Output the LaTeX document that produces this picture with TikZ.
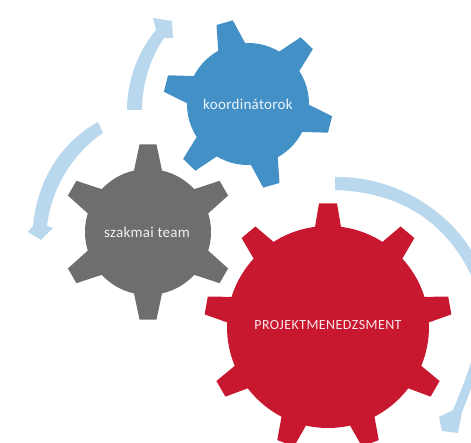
\documentclass[tikz,border=0pt]{standalone}
\usepackage{fontspec}
\setmainfont{Carlito}
\usetikzlibrary{calc}
\definecolor{gearblue}{HTML}{4390C6}
\definecolor{geargray}{HTML}{6E6E70}
\definecolor{gearred}{HTML}{C8182F}
\definecolor{arrowblue}{HTML}{B9D8EE}
% gear: centre x,y; body r; tip r; teeth; first angle; half base; half tip; colour
\newcommand{\gearshape}[9]{%
  \pgfmathsetmacro{\stepang}{360/#5}
  \pgfmathsetmacro{\baseang}{asin(#7/#3)}
  \pgfmathsetmacro{\tipang}{asin(#8/#4)}
  \pgfmathtruncatemacro{\lastt}{#5-1}
  \fill[#9] (#1,#2) circle[radius=#3];
  \foreach \k in {0,...,\lastt}{
    \pgfmathsetmacro{\a}{#6+\k*\stepang}
    \fill[#9] (#1,#2) ++({\a-\baseang}:#3) -- ($(#1,#2)+({\a-\tipang}:#4)$) -- ($(#1,#2)+({\a+\tipang}:#4)$) -- ($(#1,#2)+({\a+\baseang}:#3)$) -- (#1,#2) -- cycle;
  }
}
\tikzset{bandarrow/.style={fill=arrowblue,draw=none},
  gearlabel/.style={text=white,text opacity=0.9,inner sep=0pt}}
\begin{document}
\begin{tikzpicture}[x=1pt,y=-1pt]
\useasboundingbox (0,0) rectangle (471,443);
\begin{scope}
\clip (0,0) rectangle (471,443);
% arrows
\fill[bandarrow] (127,110) .. controls (127,85) and (135,55) .. (156,30) -- (153,18) -- (172,21) -- (173,38) -- (164,38) .. controls (150,58) and (142,85) .. (142,110) -- cycle;
\fill[bandarrow] (98,122) .. controls (65,140) and (38,175) .. (33,226) -- (28,232) -- (41,240) -- (53,228) -- (47,226) .. controls (52,185) and (75,152) .. (103,133) -- cycle;
\fill[bandarrow] (335,177) .. controls (400,176) and (450,215) .. (471,250)
  .. controls (492,295) and (488,350) .. (462,412) -- (458,433) -- (442,431) -- (439,417) -- (453,410)
  .. controls (478,350) and (488,315) .. (470,273) .. controls (445,222) and (400,192) .. (335,190) -- cycle;
% gears
\gearshape{248}{104}{61}{85}{6}{14}{14}{8.5}{gearblue}
\gearshape{148}{232}{63}{88}{6}{-30}{14}{8.5}{geargray}
\gearshape{328}{327}{101}{124}{9}{-10}{13}{9}{gearred}
\end{scope}
\node[gearlabel,font=\fontsize{15}{17}\selectfont] (k) at (248,104) {\addfontfeature{LetterSpace=2}koordinátorok};
\node[gearlabel,font=\fontsize{15}{17}\selectfont] (sz) at (147,232) {\addfontfeature{LetterSpace=2}szakmai team};
\node[gearlabel,font=\fontsize{14}{16}\selectfont] (p) at (328,325) {\addfontfeature{LetterSpace=3}PROJEKTMENEDZSMENT};
\end{tikzpicture}
\end{document}
